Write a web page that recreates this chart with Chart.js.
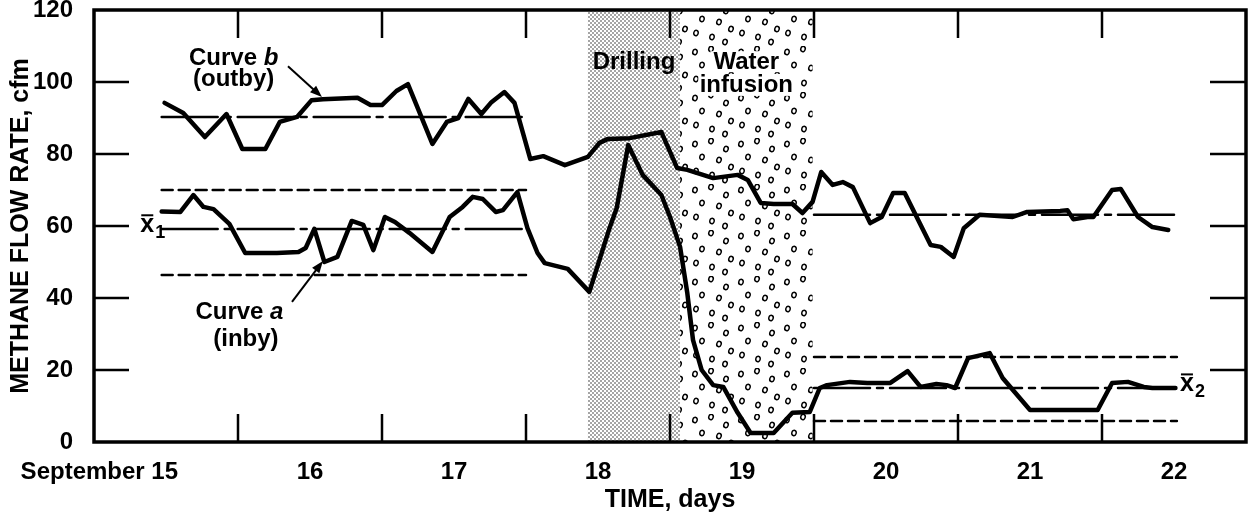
<!DOCTYPE html>
<html>
<head>
<meta charset="utf-8">
<script src="https://cdn.jsdelivr.net/npm/chart.js@4.4.0/dist/chart.umd.min.js"></script>
<style>
  html, body { margin: 0; padding: 0; background: #fff; }
  #wrap { width: 1254px; height: 516px; }
</style>
</head>
<body>
<div id="wrap"><canvas id="chart" width="1254" height="516"></canvas></div>
<script>
// ── Data (x = days since Sept 15 00:00, y = cfm) ──
const DAY_LABELS = ['September 15', '16', '17', '18', '19', '20', '21', '22'];
const LABEL_DAYS = [0.5, 1.5, 2.5, 3.5, 4.5, 5.5, 6.5, 7.5];
const TICK_DAYS = [1, 2, 3, 4, 5, 6, 7];
const Y_MARKS = [20, 40, 60, 80, 100];

// Curve b (outby)
const CURVE_B_DAYS = [0.49, 0.62, 0.77, 0.92, 1.03, 1.19, 1.29, 1.41, 1.51, 1.59, 1.83, 1.92, 2.0, 2.10, 2.18,
  2.35, 2.45, 2.53, 2.60, 2.69, 2.76, 2.85, 2.92, 3.03, 3.12, 3.27, 3.43, 3.51, 3.57, 3.72, 3.94, 4.05, 4.12,
  4.30, 4.47, 4.54, 4.63, 4.72, 4.85, 4.92, 4.99, 5.05, 5.13, 5.20, 5.27, 5.39, 5.47, 5.55, 5.63, 5.81, 5.88,
  5.97, 6.04, 6.15, 6.38, 6.48, 6.71, 6.76, 6.80, 6.90, 6.94, 7.07, 7.13, 7.25, 7.35, 7.46];
const CURVE_B_CFM = [94.2, 91.4, 84.7, 91.1, 81.4, 81.4, 88.9, 90.3, 94.9, 95.2, 95.6, 93.6, 93.6, 97.5, 99.4,
  82.8, 88.9, 90.0, 95.3, 91.1, 94.4, 97.2, 94.2, 78.6, 79.4, 76.9, 79.2, 83.1, 84.2, 84.4, 86.1, 76.1, 75.6,
  73.3, 74.2, 72.8, 66.4, 66.1, 66.1, 63.6, 66.7, 75.0, 71.4, 72.2, 70.8, 60.8, 62.5, 69.2, 69.2, 54.7, 54.2,
  51.4, 59.4, 63.1, 62.5, 63.9, 64.2, 64.4, 61.9, 62.5, 62.5, 70.0, 70.3, 62.5, 59.7, 58.9];

// Curve a (inby)
const CURVE_A_DAYS = [0.47, 0.60, 0.69, 0.76, 0.83, 0.94, 1.05, 1.27, 1.42, 1.47, 1.53, 1.60, 1.69, 1.79, 1.87,
  1.94, 2.02, 2.09, 2.19, 2.35, 2.47, 2.56, 2.63, 2.70, 2.79, 2.84, 2.94, 3.01, 3.08, 3.13, 3.29, 3.44, 3.58,
  3.63, 3.71, 3.81, 3.94, 4.0, 4.07, 4.12, 4.16, 4.22, 4.30, 4.37, 4.47, 4.56, 4.72, 4.85, 4.97, 5.04, 5.09,
  5.25, 5.37, 5.53, 5.65, 5.74, 5.85, 5.92, 5.98, 6.07, 6.22, 6.31, 6.50, 6.97, 7.07, 7.18, 7.29, 7.35, 7.51];
const CURVE_A_CFM = [64.0, 63.9, 68.6, 65.3, 64.7, 60.6, 52.5, 52.5, 52.8, 53.9, 59.2, 50.0, 51.4, 61.4, 60.3,
  53.3, 62.5, 61.1, 58.1, 52.8, 62.5, 65.3, 68.1, 67.5, 63.9, 64.4, 69.4, 59.4, 52.5, 49.7, 48.1, 41.7, 59.4,
  65.0, 82.5, 74.2, 68.6, 62.5, 54.2, 41.4, 28.3, 20.0, 15.8, 15.3, 8.1, 2.5, 2.5, 8.1, 8.3, 15.0, 15.8,
  16.7, 16.4, 16.4, 19.7, 15.3, 16.1, 15.8, 15.0, 23.3, 24.7, 17.8, 8.9, 8.9, 16.4, 16.7, 15.3, 15.0, 15.0];

// Before / after periods with mean and control-limit lines
const PERIODS = [[0.47, 3.0], [5.0, 7.52]];
const MEAN_B = [90.3, 63.1];
const MEAN_A = [59.2, 15.0];
const UPPER_A = [70.0, 23.6];
const LOWER_A = [46.4, 5.8];

const DRILLING = [3.43, 4.07];
const INFUSION = [4.07, 4.99];

// ── Styling ──
const FONT = "'Liberation Sans', Arial, sans-serif";
const DASH_DOT = [56, 7, 6, 7];
const DASHED = [11, 6];

const pts = (xs, ys) => xs.map((x, i) => ({ x, y: ys[i] }));

function refLines(values, dash) {
  return PERIODS.map((p, i) => ({
    data: [{ x: p[0], y: values[i] }, { x: p[1], y: values[i] }],
    borderColor: '#000',
    borderWidth: 2.5,
    borderDash: dash,
    pointRadius: 0,
  }));
}

function makeStipple() {
  const c = document.createElement('canvas');
  c.width = c.height = 4;
  const g = c.getContext('2d');
  g.fillStyle = '#fff';
  g.fillRect(0, 0, 4, 4);
  g.fillStyle = '#333';
  [[1, 1], [3, 3]].forEach(([x, y]) => { g.beginPath(); g.arc(x, y, 0.8, 0, Math.PI * 2); g.fill(); });
  return c;
}

function makeDroplets() {
  const c = document.createElement('canvas');
  c.width = c.height = 46;
  const g = c.getContext('2d');
  g.fillStyle = '#fff';
  g.fillRect(0, 0, 46, 46);
  g.strokeStyle = '#000';
  g.lineWidth = 1.5;
  [[5, 6], [21, 3], [36, 11], [12, 19], [29, 22], [41, 29], [6, 33], [22, 37], [35, 42]].forEach(([x, y]) => {
    g.beginPath(); g.ellipse(x, y, 2.2, 2.7, 0.3, 0, Math.PI * 2); g.stroke();
  });
  return c;
}

// ── Plugins: shaded periods, axis marks, annotations ──
const periodShading = {
  id: 'periodShading',
  beforeDatasetsDraw(chart) {
    const { ctx, scales: { x, y } } = chart;
    const top = y.getPixelForValue(120), bottom = y.getPixelForValue(0);
    ctx.save();
    ctx.fillStyle = ctx.createPattern(makeStipple(), 'repeat');
    const d0 = x.getPixelForValue(DRILLING[0]), d1 = x.getPixelForValue(DRILLING[1]);
    ctx.fillRect(d0, top, d1 - d0, bottom - top);
    ctx.fillStyle = ctx.createPattern(makeDroplets(), 'repeat');
    const w0 = x.getPixelForValue(INFUSION[0]), w1 = x.getPixelForValue(INFUSION[1]);
    ctx.fillRect(w0, top, w1 - w0, bottom - top);

    ctx.font = `bold 24px ${FONT}`;
    ctx.textAlign = 'center';
    ctx.textBaseline = 'middle';
    const wc = (w0 + w1) / 2;
    ctx.fillStyle = '#fff';
    ctx.fillRect(wc - 36, y.getPixelForValue(105.5) - 11, 72, 21);
    ctx.fillRect(wc - 48, y.getPixelForValue(99.2) - 11, 96, 22);
    ctx.fillStyle = '#000';
    ctx.fillText('Drilling', (d0 + d1) / 2, y.getPixelForValue(105.5));
    ctx.fillText('Water', wc, y.getPixelForValue(105.5));
    ctx.fillText('infusion', wc, y.getPixelForValue(99.2));
    ctx.restore();
  },
};

function arrow(ctx, x0, y0, x1, y1) {
  const a = Math.atan2(y1 - y0, x1 - x0);
  ctx.beginPath();
  ctx.moveTo(x0, y0);
  ctx.lineTo(x1 - 8 * Math.cos(a), y1 - 8 * Math.sin(a));
  ctx.stroke();
  ctx.beginPath();
  ctx.moveTo(x1, y1);
  ctx.lineTo(x1 - 12 * Math.cos(a) + 4.5 * Math.sin(a), y1 - 12 * Math.sin(a) - 4.5 * Math.cos(a));
  ctx.lineTo(x1 - 12 * Math.cos(a) - 4.5 * Math.sin(a), y1 - 12 * Math.sin(a) + 4.5 * Math.cos(a));
  ctx.closePath();
  ctx.fill();
}

function curveLabel(ctx, px, py, letter) {
  ctx.font = `bold 24px ${FONT}`;
  const w1 = ctx.measureText('Curve ').width;
  ctx.font = `italic bold 24px ${FONT}`;
  const w2 = ctx.measureText(letter).width;
  const left = px - (w1 + w2) / 2;
  ctx.textAlign = 'left';
  ctx.font = `bold 24px ${FONT}`;
  ctx.fillText('Curve ', left, py);
  ctx.font = `italic bold 24px ${FONT}`;
  ctx.fillText(letter, left + w1, py);
}

function xBar(ctx, px, py, sub) {
  ctx.font = `bold 25px ${FONT}`;
  ctx.textAlign = 'center';
  ctx.fillText('x', px, py);
  ctx.lineWidth = 2;
  ctx.beginPath();
  ctx.moveTo(px - 6, py - 10);
  ctx.lineTo(px + 6, py - 10);
  ctx.stroke();
  ctx.font = `bold 18px ${FONT}`;
  ctx.fillText(sub, px + 13, py + 8);
}

const annotations = {
  id: 'annotations',
  afterDraw(chart) {
    const { ctx, chartArea: a, scales: { x, y } } = chart;
    const X = v => x.getPixelForValue(v), Y = v => y.getPixelForValue(v);
    ctx.save();
    ctx.strokeStyle = '#000';
    ctx.fillStyle = '#000';
    ctx.lineCap = 'butt';

    // inward tick marks
    ctx.lineWidth = 2.5;
    TICK_DAYS.forEach(d => {
      ctx.beginPath();
      ctx.moveTo(X(d), a.bottom); ctx.lineTo(X(d), a.bottom - 28);
      ctx.moveTo(X(d), a.top); ctx.lineTo(X(d), a.top + 28);
      ctx.stroke();
    });
    Y_MARKS.forEach(v => {
      ctx.beginPath();
      ctx.moveTo(a.left, Y(v)); ctx.lineTo(a.left + 35, Y(v));
      ctx.moveTo(a.right, Y(v)); ctx.lineTo(a.right - 36, Y(v));
      ctx.stroke();
    });

    // frame
    ctx.lineWidth = 3.5;
    ctx.strokeRect(a.left, a.top, a.right - a.left, a.bottom - a.top);

    // curve labels with arrows
    ctx.textBaseline = 'middle';
    curveLabel(ctx, X(0.97), Y(106.7), 'b');
    ctx.textAlign = 'center';
    ctx.font = `bold 24px ${FONT}`;
    ctx.fillText('(outby)', X(0.97), Y(100.6));
    curveLabel(ctx, X(1.01), Y(36.1), 'a');
    ctx.textAlign = 'center';
    ctx.font = `bold 24px ${FONT}`;
    ctx.fillText('(inby)', X(1.055), Y(28.6));
    ctx.lineWidth = 2;
    arrow(ctx, X(1.347), Y(104.4), X(1.583), Y(95.8));
    arrow(ctx, X(1.375), Y(38.9), X(1.59), Y(50.3));

    // mean labels
    xBar(ctx, X(0.37), Y(60.2), '1');
    xBar(ctx, X(7.59), Y(16.0), '2');
    ctx.restore();
  },
};

const tickFont = { family: FONT, size: 24, weight: 'bold', lineHeight: 1.2 };
const pad = '\u00a0'.repeat(20);

new Chart(document.getElementById('chart'), {
  type: 'line',
  data: {
    datasets: [
      ...refLines(MEAN_B, DASH_DOT),
      ...refLines(MEAN_A, DASH_DOT),
      ...refLines(UPPER_A, DASHED),
      ...refLines(LOWER_A, DASHED),
      {
        label: 'Curve b (outby)',
        data: pts(CURVE_B_DAYS, CURVE_B_CFM),
        borderColor: '#000',
        borderWidth: 4.5,
        pointRadius: 0,
      },
      {
        label: 'Curve a (inby)',
        data: pts(CURVE_A_DAYS, CURVE_A_CFM),
        borderColor: '#000',
        borderWidth: 4.5,
        pointRadius: 0,
      },
    ],
  },
  options: {
    responsive: false,
    animation: false,
    devicePixelRatio: 1,
    layout: { padding: { top: 10, right: 8, left: 0, bottom: 0 } },
    elements: { line: { tension: 0, borderJoinStyle: 'round', borderCapStyle: 'round' } },
    plugins: { legend: { display: false }, tooltip: { enabled: false } },
    scales: {
      x: {
        type: 'linear',
        min: 0,
        max: 8,
        grid: { display: false },
        border: { display: false },
        afterBuildTicks: s => { s.ticks = LABEL_DAYS.map(v => ({ value: v })); },
        afterFit: s => { s.height = 74; s.paddingLeft = 0; s.paddingRight = 0; },
        ticks: {
          autoSkip: false,
          maxRotation: 0,
          color: '#000',
          font: tickFont,
          padding: 8,
          callback: (v, i) => (i === 0 ? DAY_LABELS[i] + pad : DAY_LABELS[i]),
        },
        title: {
          display: true,
          text: 'TIME, days',
          color: '#000',
          font: { family: FONT, size: 25, weight: 'bold', lineHeight: 1.2 },
          padding: { top: 0, bottom: 1 },
        },
      },
      y: {
        min: 0,
        max: 120,
        grid: { display: false },
        border: { display: false },
        afterFit: s => { s.width = 94; s.paddingTop = 0; s.paddingBottom = 0; },
        ticks: { stepSize: 20, color: '#000', font: tickFont, padding: 13 },
        title: {
          display: true,
          text: 'METHANE FLOW RATE, cfm',
          color: '#000',
          font: { family: FONT, size: 25, weight: 'bold', lineHeight: 1.2 },
          padding: { top: 6, bottom: 0 },
        },
      },
    },
  },
  plugins: [periodShading, annotations],
});
</script>
</body>
</html>
